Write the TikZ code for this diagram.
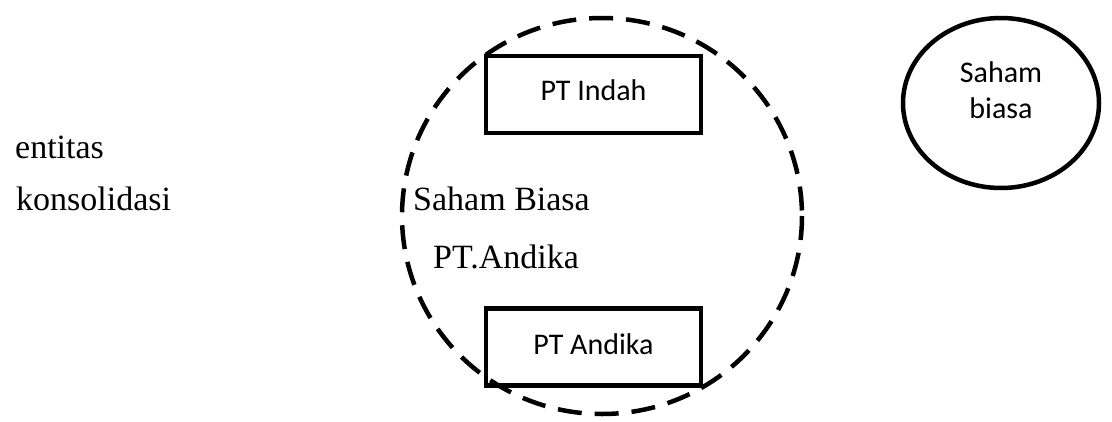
\documentclass[tikz,border=0pt]{standalone}
\usepackage{fontspec}
\setmainfont{Liberation Serif}
\newfontfamily\boxfont{Carlito}
\begin{document}
\begin{tikzpicture}[x=1pt,y=-1pt,
  lbl/.style={font=\fontsize{34}{38}\selectfont, inner sep=0pt, anchor=base west},
  boxlbl/.style={font=\boxfont\fontsize{30}{34}\selectfont, inner sep=0pt},
  entbox/.style={draw, line width=4.5pt, minimum width=215pt, minimum height=77pt, inner sep=0pt},
  grp/.style={draw, line width=4.5pt, dash pattern=on 24pt off 13pt},
  stock/.style={draw, line width=4.5pt}]
\useasboundingbox (0,0) rectangle (1112,421);
\draw[grp] (602,216) ellipse [x radius=200, y radius=198];
\node[entbox] (indah) at (593.5,94.5) {};
\node[boxlbl] (indahtxt) at ([yshift=4pt]indah.center) {PT Indah};
\node[entbox] (andika) at (593.5,347) {};
\node[boxlbl] (andikatxt) at ([yshift=3pt]andika.center) {PT Andika};
\node[lbl] (ent) at (15,158) {entitas};
\node[lbl] (kons) at (16,210) {konsolidasi};
\node[lbl] (sb) at (413,210) {Saham Biasa};
\node[lbl] (pta) at (433,268) {PT.Andika};
\draw[stock] (1001,103) ellipse [x radius=98, y radius=85];
\node[boxlbl, align=center, font=\boxfont\fontsize{30}{36}\selectfont] (sbiasa) at (1001,90) {Saham\\biasa};
\end{tikzpicture}
\end{document}
